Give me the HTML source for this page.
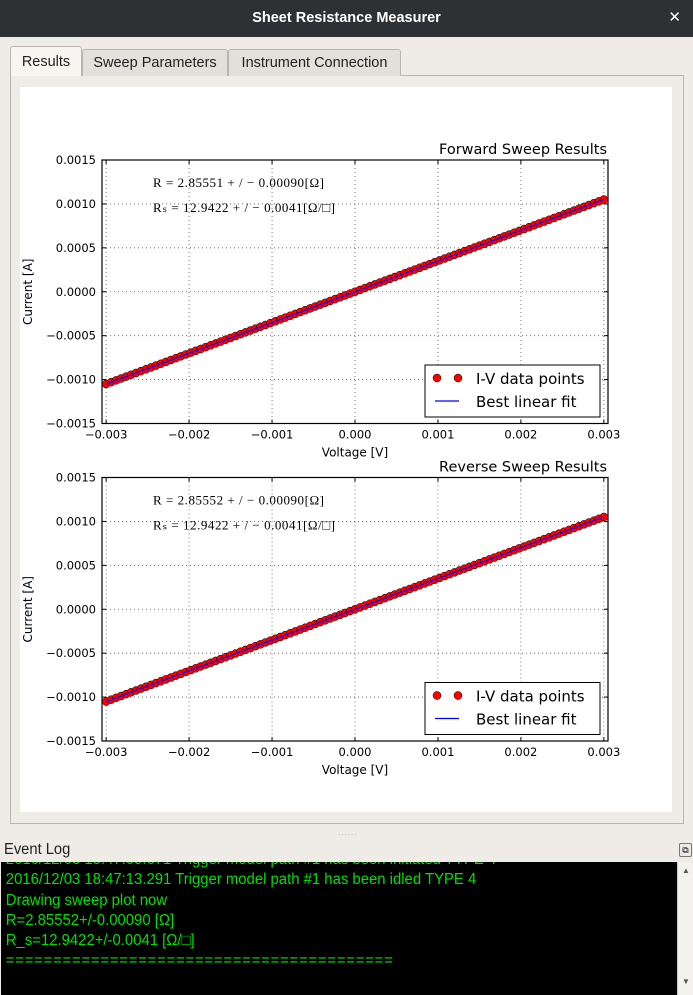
<!DOCTYPE html>
<html><head><meta charset="utf-8"><style>
body{margin:0;width:693px;height:995px;background:#efece8;font-family:"Liberation Sans",sans-serif;position:relative;overflow:hidden}
.abs{position:absolute}
#titlebar{left:0;top:0;width:693px;height:37px;background:#2d3133;color:#fff;font-size:14.5px;font-weight:bold;text-align:center;line-height:36px}
#close{right:12px;top:0;color:#fff;font-size:15px;line-height:36px}
.tab{height:27px;border:1px solid #b9b5ae;border-bottom:none;border-radius:3px 3px 0 0;background:#e3e0db;font-size:14.5px;line-height:27px;text-align:center;color:#222;box-sizing:border-box}
#panel{left:10px;top:75px;width:674px;height:749px;border:1px solid #b9b5ae;box-sizing:border-box;background:#efece8}
#fig{left:20px;top:87px;width:652px;height:725px;background:#fff}
#log{left:1px;top:862px;width:676px;height:133px;background:#000;overflow:hidden}
#logtext{color:#00e000;font-size:15.5px;line-height:20.3px;white-space:pre;transform:scaleX(0.96);transform-origin:0 0;margin-top:-12px;padding-left:5px}
#scroll{left:677px;top:862px;width:16px;height:133px;background:#f3f1ee;border-left:1px solid #ccc}
</style></head><body>
<div id="titlebar" class="abs">Sheet Resistance Measurer</div>
<div id="close" class="abs">✕</div>
<div id="panel" class="abs"></div>
<div class="abs tab" style="left:10px;top:46px;width:72px;height:30px;background:#f7f5f2;line-height:30px">Results</div>
<div class="abs tab" style="left:82px;top:49px;width:146px">Sweep Parameters</div>
<div class="abs tab" style="left:228px;top:49px;width:173px">Instrument Connection</div>
<div id="fig" class="abs"></div>
<svg id="chart" class="abs" style="left:0;top:0" width="693" height="830"></svg>
<div class="abs" style="left:338px;top:828px;color:#aaa;font-size:8px;letter-spacing:1px">......</div>
<div class="abs" style="left:4px;top:841px;font-size:15.5px;color:#222;transform:scaleX(0.95);transform-origin:0 0">Event Log</div>
<div class="abs" style="left:679px;top:843px;width:11px;height:12px;border:1px solid #777;border-radius:2px;font-size:9px;line-height:12px;text-align:center">⧉</div>
<div id="log" class="abs"><div id="logtext">2016/12/03 18:47:09.671 Trigger model path #1 has been initiated TYPE 4
2016/12/03 18:47:13.291 Trigger model path #1 has been idled TYPE 4
Drawing sweep plot now
R=2.85552+/-0.00090 [Ω]
R_s=12.9422+/-0.0041 [Ω/□]
<span style="letter-spacing:0.8px">=========================================</span></div></div>
<div id="scroll" class="abs"><div style="font-size:8px;color:#555;text-align:center;margin-top:4px">▲</div><div style="font-size:8px;color:#555;text-align:center;margin-top:102px">▼</div></div>
<script>
const voltages_mV=[-3.00,-2.94,-2.88,-2.82,-2.76,-2.70,-2.64,-2.58,-2.52,-2.46,-2.40,-2.34,-2.28,-2.22,-2.16,-2.10,-2.04,-1.98,-1.92,-1.86,-1.80,-1.74,-1.68,-1.62,-1.56,-1.50,-1.44,-1.38,-1.32,-1.26,-1.20,-1.14,-1.08,-1.02,-0.96,-0.90,-0.84,-0.78,-0.72,-0.66,-0.60,-0.54,-0.48,-0.42,-0.36,-0.30,-0.24,-0.18,-0.12,-0.06,0,0.06,0.12,0.18,0.24,0.30,0.36,0.42,0.48,0.54,0.60,0.66,0.72,0.78,0.84,0.90,0.96,1.02,1.08,1.14,1.20,1.26,1.32,1.38,1.44,1.50,1.56,1.62,1.68,1.74,1.80,1.86,1.92,1.98,2.04,2.10,2.16,2.22,2.28,2.34,2.40,2.46,2.52,2.58,2.64,2.70,2.76,2.82,2.88,2.94,3.00];
const forward_uA=[-1050.6,-1029.6,-1008.6,-987.6,-966.6,-945.5,-924.5,-903.5,-882.5,-861.5,-840.5,-819.5,-798.5,-777.4,-756.4,-735.4,-714.4,-693.4,-672.4,-651.4,-630.4,-609.3,-588.3,-567.3,-546.3,-525.3,-504.3,-483.3,-462.3,-441.3,-420.2,-399.2,-378.2,-357.2,-336.2,-315.2,-294.2,-273.2,-252.1,-231.1,-210.1,-189.1,-168.1,-147.1,-126.1,-105.1,-84.0,-63.0,-42.0,-21.0,0,21.0,42.0,63.0,84.0,105.1,126.1,147.1,168.1,189.1,210.1,231.1,252.1,273.2,294.2,315.2,336.2,357.2,378.2,399.2,420.2,441.3,462.3,483.3,504.3,525.3,546.3,567.3,588.3,609.3,630.4,651.4,672.4,693.4,714.4,735.4,756.4,777.4,798.5,819.5,840.5,861.5,882.5,903.5,924.5,945.5,966.6,987.6,1008.6,1029.6,1050.6];
const reverse_uA=[-1050.6,-1029.6,-1008.6,-987.6,-966.6,-945.5,-924.5,-903.5,-882.5,-861.5,-840.5,-819.5,-798.5,-777.4,-756.4,-735.4,-714.4,-693.4,-672.4,-651.4,-630.4,-609.3,-588.3,-567.3,-546.3,-525.3,-504.3,-483.3,-462.3,-441.3,-420.2,-399.2,-378.2,-357.2,-336.2,-315.2,-294.2,-273.2,-252.1,-231.1,-210.1,-189.1,-168.1,-147.1,-126.1,-105.1,-84.0,-63.0,-42.0,-21.0,0,21.0,42.0,63.0,84.0,105.1,126.1,147.1,168.1,189.1,210.1,231.1,252.1,273.2,294.2,315.2,336.2,357.2,378.2,399.2,420.2,441.3,462.3,483.3,504.3,525.3,546.3,567.3,588.3,609.3,630.4,651.4,672.4,693.4,714.4,735.4,756.4,777.4,798.5,819.5,840.5,861.5,882.5,903.5,924.5,945.5,966.6,987.6,1008.6,1029.6,1050.6];
const fitSlope_uA_per_mV=[350.2,350.2];
const xTicks=[-0.003,-0.002,-0.001,0,0.001,0.002,0.003];
const xTickLabels=["\u22120.003","\u22120.002","\u22120.001","0.000","0.001","0.002","0.003"];
const yTicks=[0.0015,0.0010,0.0005,0,-0.0005,-0.0010,-0.0015];
const yTickLabels=["0.0015","0.0010","0.0005","0.0000","\u22120.0005","\u22120.0010","\u22120.0015"];
const titles=["Forward Sweep Results","Reverse Sweep Results"];
const rLines=["R = 2.85551 + / \u2212 0.00090[\u03A9]","R = 2.85552 + / \u2212 0.00090[\u03A9]"];
const rsLines=["R\u209B = 12.9422 + / \u2212 0.0041[\u03A9/\u25A1]","R\u209B = 12.9422 + / \u2212 0.0041[\u03A9/\u25A1]"];
const NS="http://www.w3.org/2000/svg";
const svg=document.getElementById('chart');
function mk(tag,attrs,parent){const e=document.createElementNS(NS,tag);for(const k in attrs)e.setAttribute(k,attrs[k]);(parent||svg).appendChild(e);return e;}
const L=102,R=608,X0=-0.00305,X1=0.00305;
function xs(v){return L+(v-X0)/(X1-X0)*(R-L);}
function drawPanel(i,top,data){
  const bot=top+263.5;
  function ys(v){return bot-(v+0.0015)/0.003*(bot-top);}
  const g=mk('g',{'font-family':'DejaVu Sans,sans-serif'});
  
  
  xTicks.forEach((t,k)=>{
    const x=xs(t);
    mk('line',{x1:x,x2:x,y1:top,y2:bot,stroke:'#555','stroke-width':0.8,'stroke-dasharray':'1,3'},g);
    mk('line',{x1:x,x2:x,y1:bot,y2:bot-4,stroke:'#000'},g);
    mk('line',{x1:x,x2:x,y1:top,y2:top+4,stroke:'#000'},g);
    const t1=mk('text',{x:x,y:bot+15,'text-anchor':'middle','font-size':11.5,fill:'#000'},g);t1.textContent=xTickLabels[k];
    
    
  });
  yTicks.forEach((t,k)=>{
    const y=ys(t);
    mk('line',{x1:L,x2:R,y1:y,y2:y,stroke:'#555','stroke-width':0.8,'stroke-dasharray':'1,3'},g);
    mk('line',{x1:L,x2:L+4,y1:y,y2:y,stroke:'#000'},g);
    mk('line',{x1:R,x2:R-4,y1:y,y2:y,stroke:'#000'},g);
    const t1=mk('text',{x:L-6,y:y+4,'text-anchor':'end','font-size':11.5,fill:'#000'},g);t1.textContent=yTickLabels[k];
    
    
  });
  const vmin=voltages_mV[0],vmax=voltages_mV[voltages_mV.length-1];
  voltages_mV.forEach((v,k)=>{
    const c=mk('circle',{cx:xs(v/1000),cy:ys(data[k]/1e6),r:4,fill:'#ff0000',stroke:'#000','stroke-width':0.5},g);
    
    
  });
  const fl=mk('line',{x1:xs(vmin/1000),x2:xs(vmax/1000),y1:ys(vmin*fitSlope_uA_per_mV[i]/1e6),y2:ys(vmax*fitSlope_uA_per_mV[i]/1e6),stroke:'#0000ff','stroke-width':1.2},g);
  
  
  mk('rect',{x:L,y:top,width:R-L,height:bot-top,fill:'none',stroke:'#000','stroke-width':1.2},g);
  const tt=mk('text',{x:R-1,y:top-6,'text-anchor':'end','font-size':14.5,fill:'#000'},g);tt.textContent=titles[i];
  
  
  const a1=mk('text',{x:153,y:top+27,'font-size':13,'font-family':'Liberation Serif,serif',fill:'#000',textLength:171,lengthAdjust:'spacing'},g);a1.textContent=rLines[i];
  
  
  const a2=mk('text',{x:153,y:top+52,'font-size':13,'font-family':'Liberation Serif,serif',fill:'#000',textLength:182,lengthAdjust:'spacing'},g);a2.textContent=rsLines[i];
  
  
  const xl=mk('text',{x:355,y:bot+33,'text-anchor':'middle','font-size':12,fill:'#000'},g);xl.textContent='Voltage [V]';
  
  
  const cy=(top+bot)/2;
  const yl=mk('text',{x:32,y:cy,'text-anchor':'middle','font-size':12,fill:'#000',transform:`rotate(-90 32 ${cy})`},g);yl.textContent='Current [A]';
  
  
  const lg=mk('g',{},g);
  
  
  const ly=top+205;
  mk('rect',{x:425,y:ly,width:175,height:52,fill:'#fff',stroke:'#000','stroke-width':1},lg);
  mk('circle',{cx:437,cy:ly+13,r:4,fill:'#ff0000',stroke:'#000','stroke-width':0.5},lg);
  mk('circle',{cx:458,cy:ly+13,r:4,fill:'#ff0000',stroke:'#000','stroke-width':0.5},lg);
  mk('line',{x1:435,x2:459,y1:ly+36,y2:ly+36,stroke:'#0000ff','stroke-width':1.2},lg);
  const l1=mk('text',{x:476,y:ly+19,'font-size':15,fill:'#000'},lg);l1.textContent='I-V data points';
  
  
  const l2=mk('text',{x:476,y:ly+42,'font-size':15,fill:'#000'},lg);l2.textContent='Best linear fit';
  
  
}
drawPanel(0,160,forward_uA);
drawPanel(1,477.5,reverse_uA);
</script>
</body></html>
